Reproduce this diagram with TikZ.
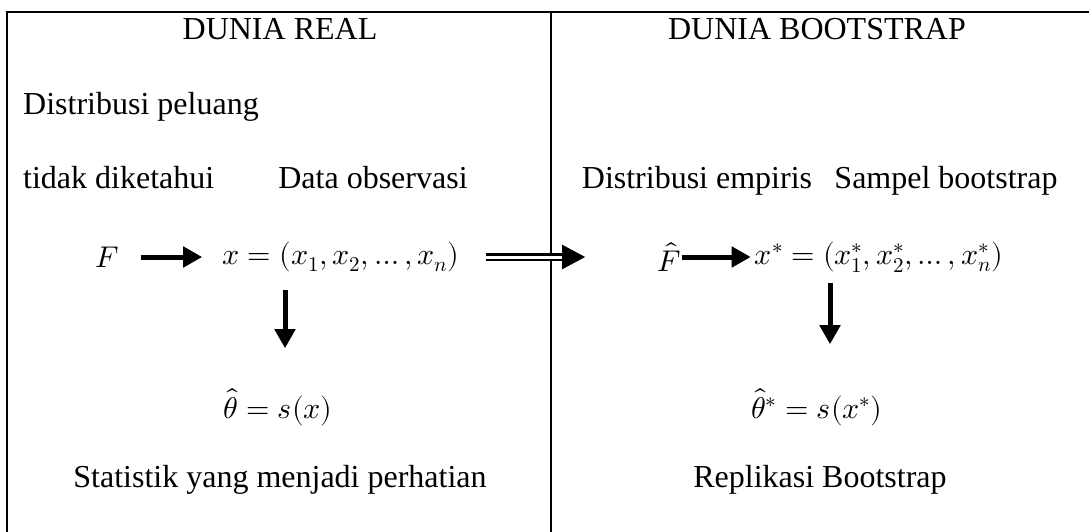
\documentclass[tikz,border=0pt]{standalone}
\usepackage{unicode-math}
\setmainfont{Liberation Serif}
\setmathfont{Latin Modern Math}
\usetikzlibrary{arrows.meta,positioning}
\tikzset{
  lbl/.style={font=\fontsize{32}{38}\selectfont,inner sep=0pt,anchor=base},
  mth/.style={font=\fontsize{30}{36}\selectfont,inner sep=0pt},
  fatarrow/.style={line width=5pt,-{Triangle[length=19pt,width=20pt]}},
  dblarrow/.style={double,double distance=3pt,line width=2.5pt,-{Triangle[length=23pt,width=24pt]}}
}

\begin{document}
\begin{tikzpicture}[x=1pt,y=-1pt]
  \useasboundingbox (0,0) rectangle (1089,532);
  % frame
  \draw[line width=2.2pt] (7,532) -- (7,12) -- (1089,12);
  \draw[line width=2.5pt] (551,12) -- (551,532);

  % Dunia real
  \node[lbl] (real) at (280,40) {DUNIA REAL};
  \node[lbl,anchor=base west] (dist) at (23,115) {Distribusi peluang};
  \node[lbl,anchor=base west] (tidak) at (23,188) {tidak diketahui};
  \node[lbl] (obs) at (373,188) {Data observasi};
  \node[mth] (F) at (107,257) {$F$};
  \node[mth] (xobs) at (341,257) {$x=(x_1,x_2,\dots,x_n)$};
  \node[mth] (theta) at (278,407) {$\hat{\theta}=s(x)$};
  \node[lbl] (stat) at (280,487) {Statistik yang menjadi perhatian};

  % Dunia bootstrap
  \node[lbl] (boot) at (817,40) {DUNIA BOOTSTRAP};
  \node[lbl] (emp) at (697,188) {Distribusi empiris};
  \node[lbl] (samp) at (946,188) {Sampel bootstrap};
  \node[mth] (Fhat) at (669,257) {$\hat{F}$};
  \node[mth] (xboot) at (879,257) {$x^*=(x_1^*,x_2^*,\dots,x_n^*)$};
  \node[mth] (thetaboot) at (817,407) {$\hat{\theta}^*=s(x^*)$};
  \node[lbl] (repl) at (820,487) {Replikasi Bootstrap};

  % arrows
  \draw[fatarrow,shorten <=22pt,shorten >=20pt] (F) -- (xobs);
  \draw[dblarrow,shorten <=26pt,shorten >=72pt] (xobs) -- (Fhat);
  \draw[fatarrow,shorten <=1pt,shorten >=4pt] (Fhat) -- (xboot);
  \draw[fatarrow,shorten <=18pt,shorten >=40pt] ([xshift=7pt]xobs.south -| theta.north) -- ([xshift=7pt]theta.north);
  \draw[fatarrow,shorten <=11pt,shorten >=44pt] ([xshift=13pt]xboot.south -| thetaboot.north) -- ([xshift=13pt]thetaboot.north);
\end{tikzpicture}
\end{document}
